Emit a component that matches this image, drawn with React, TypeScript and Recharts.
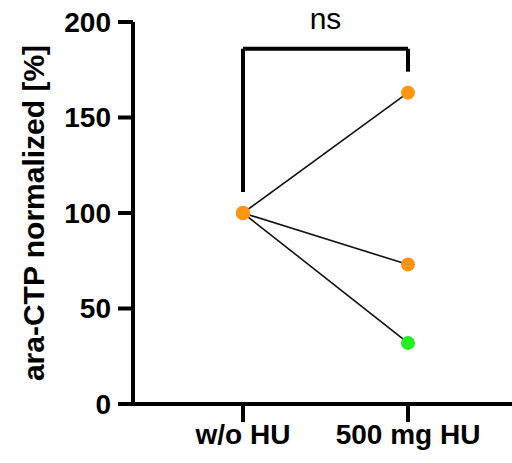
import { LineChart, Line, XAxis, YAxis, ReferenceLine } from 'recharts';

const groups = ['w/o HU', '500 mg HU'];
const sampleA = [100, 163];
const sampleB = [100, 73];
const sampleC = [100, 32];
const pointColorsA = ['#FF9410', '#FF9410'];
const pointColorsB = ['#FF9410', '#FF9410'];
const pointColorsC = ['#FF9410', '#22EE22'];
const yTicks = [0, 50, 100, 150, 200];

// significance bracket: left leg end, top, right leg end
const bracketLeft = 111;
const bracketTop = 186;
const bracketRight = 174;

const data = groups.map((g, i) => ({ name: g, a: sampleA[i], b: sampleB[i], c: sampleC[i] }));

const makeDot = (colors: string[]) => (props: any) => {
  const { cx, cy, index } = props;
  return <circle key={index} cx={cx} cy={cy} r={7} fill={colors[index]} stroke="none" />;
};

const font = 'Liberation Sans, Arial, sans-serif';

const App = () => {
  return (
    <div style={{ position: 'absolute', left: 0, top: 0, background: '#fff' }}>
      <LineChart width={512} height={463} data={data} margin={{ top: 22, right: 0, bottom: 0, left: 0 }}>
        <XAxis
          dataKey="name"
          height={59}
          padding={{ left: 110, right: 104 }}
          axisLine={{ stroke: '#000', strokeWidth: 4 }}
          tickLine={{ stroke: '#000', strokeWidth: 4 }}
          tickSize={18}
          tick={{ fill: '#000', fontSize: 28, fontWeight: 'bold', fontFamily: font }}
          tickMargin={2}
          interval={0}
        />
        <YAxis
          width={133}
          domain={[0, 200]}
          ticks={yTicks}
          axisLine={{ stroke: '#000', strokeWidth: 4 }}
          tickLine={{ stroke: '#000', strokeWidth: 4 }}
          tickSize={15}
          tickMargin={7}
          tick={{ fill: '#000', fontSize: 28, fontWeight: 'bold', fontFamily: font }}
          label={{
            value: 'ara-CTP normalized [%]',
            angle: -90,
            position: 'insideLeft',
            offset: 0,
            dx: 33,
            style: { textAnchor: 'middle', fill: '#000', fontSize: 30, fontWeight: 'bold', fontFamily: font },
          }}
        />
        <ReferenceLine
          segment={[{ x: groups[0], y: bracketTop }, { x: groups[1], y: bracketTop }]}
          stroke="#000"
          strokeWidth={4}
          ifOverflow="visible"
          label={{ value: 'ns', position: 'top', offset: 20, fill: '#000', fontSize: 30, fontFamily: font }}
        />
        <ReferenceLine
          segment={[{ x: groups[0], y: bracketLeft }, { x: groups[0], y: bracketTop }]}
          stroke="#000"
          strokeWidth={4}
          ifOverflow="visible"
        />
        <ReferenceLine
          segment={[{ x: groups[1], y: bracketRight }, { x: groups[1], y: bracketTop }]}
          stroke="#000"
          strokeWidth={4}
          ifOverflow="visible"
        />
        <Line dataKey="a" stroke="#111" strokeWidth={1.6} dot={makeDot(pointColorsA)} activeDot={false} isAnimationActive={false} />
        <Line dataKey="b" stroke="#111" strokeWidth={1.6} dot={makeDot(pointColorsB)} activeDot={false} isAnimationActive={false} />
        <Line dataKey="c" stroke="#111" strokeWidth={1.6} dot={makeDot(pointColorsC)} activeDot={false} isAnimationActive={false} />
      </LineChart>
    </div>
  );
};

export default App;
